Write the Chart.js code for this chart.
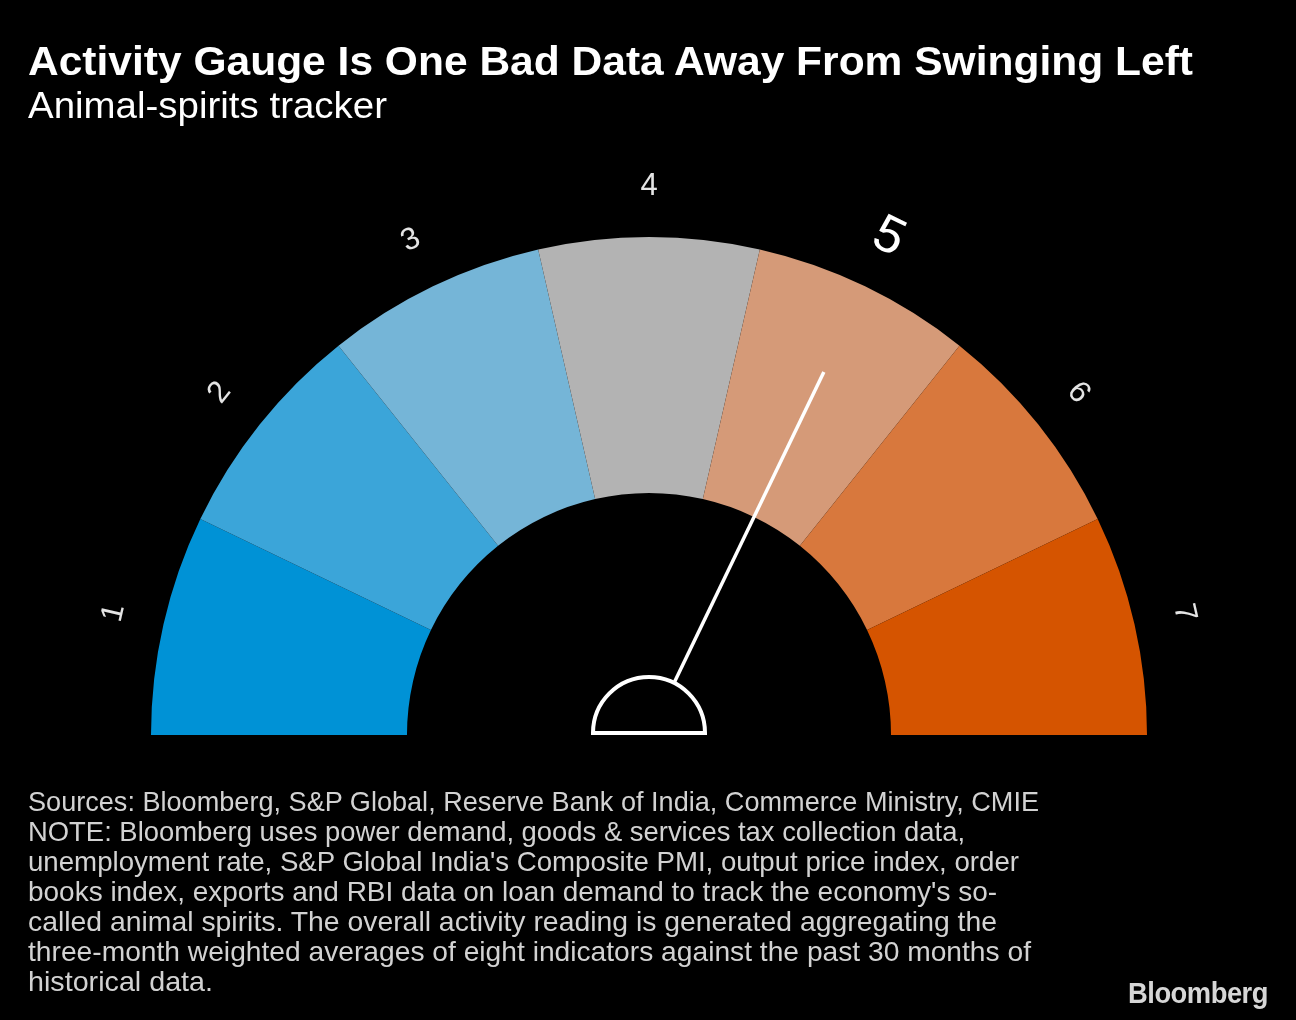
<!DOCTYPE html>
<html><head><meta charset="utf-8">
<script src="https://cdn.jsdelivr.net/npm/chart.js@4.4.0/dist/chart.umd.min.js"></script>
<style>
html,body{margin:0;padding:0;background:#000;width:1296px;height:1020px;overflow:hidden}
#wrap{position:relative;width:1296px;height:1020px;background:#000}
canvas{position:absolute;left:0;top:0}
.t{position:absolute;left:28px;white-space:nowrap;transform-origin:0 0;font-family:"Liberation Sans",Arial,sans-serif;display:inline-block}
#title{top:41px;font-size:41px;line-height:41px;font-weight:bold;color:#fff}
#sub{top:87px;font-size:37px;line-height:37px;color:#fff}
.fn{font-size:28px;line-height:28px;color:#d2d2d2}
#logo{left:1128px;top:979px;font-size:29px;line-height:29px;font-weight:bold;color:#d6d6d6;letter-spacing:-0.5px}
</style></head><body>
<div id="wrap">
<canvas id="c" width="1296" height="1020"></canvas>
<div class="t" id="title" data-w="1165">Activity Gauge Is One Bad Data Away From Swinging Left</div>
<div class="t" id="sub" data-w="359">Animal-spirits tracker</div>
<div class="t fn" style="top:788px" data-w="1011">Sources: Bloomberg, S&amp;P Global, Reserve Bank of India, Commerce Ministry, CMIE</div>
<div class="t fn" style="top:818px" data-w="937">NOTE: Bloomberg uses power demand, goods &amp; services tax collection data,</div>
<div class="t fn" style="top:848px" data-w="991">unemployment rate, S&amp;P Global India's Composite PMI, output price index, order</div>
<div class="t fn" style="top:878px" data-w="969">books index, exports and RBI data on loan demand to track the economy's so-</div>
<div class="t fn" style="top:908px" data-w="969">called animal spirits. The overall activity reading is generated aggregating the</div>
<div class="t fn" style="top:938px" data-w="1003">three-month weighted averages of eight indicators against the past 30 months of</div>
<div class="t fn" style="top:968px" data-w="185">historical data.</div>
<div class="t" id="logo" data-w="140">Bloomberg</div>
</div>
<script>
const categories = ['1','2','3','4','5','6','7'];
const segmentSizes = [1,1,1,1,1,1,1];
const segmentColors = ['#0092d6','#3ba5d9','#75b5d7','#b3b3b3','#d59a78','#d8783d','#d55400'];
const currentReading = '5';

const gaugeLabels = {
  id:'gaugeLabels',
  afterDatasetsDraw(chart){
    const ctx = chart.ctx;
    const meta = chart.getDatasetMeta(0);
    const hi = categories.indexOf(currentReading);
    meta.data.forEach((arc,i)=>{
      const mid = (arc.startAngle+arc.endAngle)/2;
      const R = i===hi ? 552 : 549;
      const x = arc.x + Math.cos(mid)*R, y = arc.y + Math.sin(mid)*R;
      ctx.save();
      ctx.translate(x,y);
      ctx.rotate(mid + Math.PI/2);
      ctx.fillStyle = i===hi ? '#ffffff' : '#e4e4e4';
      ctx.font = (i===hi ? '52px' : '31px') + ' "Liberation Sans", Arial, sans-serif';
      ctx.textAlign='center'; ctx.textBaseline='middle';
      ctx.fillText(categories[i],0,0);
      ctx.restore();
    });
    // needle
    const arc = meta.data[hi];
    const mid = (arc.startAngle+arc.endAngle)/2;
    const cx = arc.x, cy = arc.y;
    const hubR = 56;
    ctx.save();
    ctx.strokeStyle='#ffffff';
    ctx.lineWidth=3.5;
    ctx.beginPath();
    ctx.moveTo(cx+Math.cos(mid)*hubR, cy+Math.sin(mid)*hubR);
    ctx.lineTo(cx+Math.cos(mid)*403, cy+Math.sin(mid)*403);
    ctx.stroke();
    ctx.lineWidth=4;
    ctx.fillStyle='#000';
    ctx.beginPath();
    ctx.arc(cx, cy-2, hubR, Math.PI, 2*Math.PI);
    ctx.closePath();
    ctx.fill();
    ctx.stroke();
    ctx.restore();
  }
};

new Chart(document.getElementById('c'), {
  type:'doughnut',
  data:{ labels:categories, datasets:[{ data:segmentSizes, backgroundColor:segmentColors, borderWidth:0, hoverOffset:0 }]},
  options:{
    responsive:false, animation:false,
    rotation:-90, circumference:180, cutout:'48.6%',
    layout:{padding:{left:151,right:149,top:237,bottom:285}},
    plugins:{legend:{display:false}, tooltip:{enabled:false}, title:{display:false}},
    events:[]
  },
  plugins:[gaugeLabels]
});

function fit(){
  document.querySelectorAll('.t').forEach(el=>{
    el.style.transform='none';
    const w = el.getBoundingClientRect().width;
    const target = +el.dataset.w;
    if(w>0 && target) el.style.transform='scaleX('+(target/w)+')';
  });
}
fit();
if(document.fonts && document.fonts.ready) document.fonts.ready.then(fit);
</script>
</body></html>
